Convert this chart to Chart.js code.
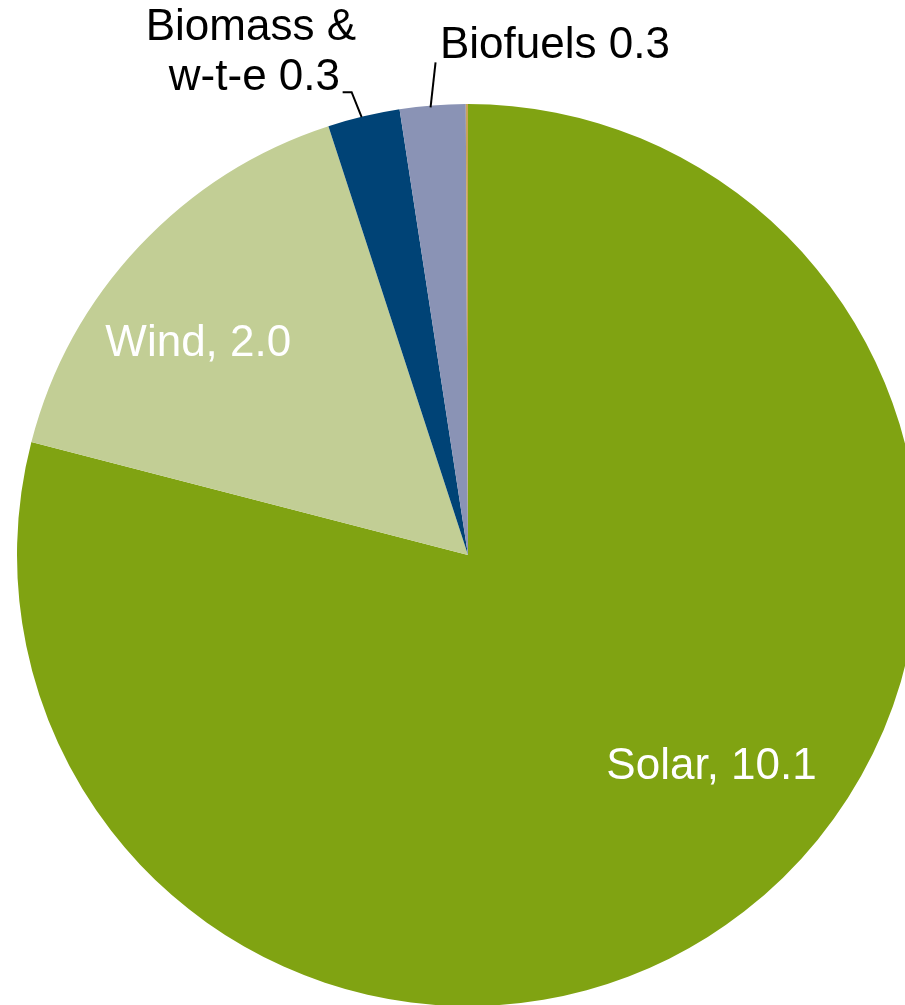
<!DOCTYPE html>
<html>
<head>
<meta charset="utf-8">
<script src="https://cdn.jsdelivr.net/npm/chart.js@4.4.1/dist/chart.umd.min.js"></script>
<style>
  html, body { margin: 0; padding: 0; background: #fff; overflow: hidden; }
  #wrap { position: absolute; left: 0; top: 0; width: 905px; height: 1005px; overflow: hidden; }
  #pie { position: absolute; left: 0; top: 0; }
</style>
</head>
<body>
<div id="wrap"><canvas id="pie" width="936" height="1110"></canvas></div>
<script>
var labels = ['Solar', 'Wind', 'Biomass & w-t-e', 'Biofuels', 'Other'];
var values = [10.1, 2.04, 0.33, 0.3, 0.01];
var colors = ['#80A312', '#C2CE95', '#004376', '#8A93B5', '#C9A35A'];

var labelFont = '44px "Liberation Sans", Arial, sans-serif';

var sliceLabels = {
    id: 'sliceLabels',
    afterDraw: function (chart) {
        var ctx = chart.ctx;
        var arcs = chart.getDatasetMeta(0).data;
        ctx.save();
        ctx.font = labelFont;
        ctx.textBaseline = 'middle';

        // inside labels
        var cx = arcs[0].x, cy = arcs[0].y, r = arcs[0].outerRadius;
        ctx.fillStyle = '#fff';
        ctx.textAlign = 'center';
        ctx.fillText(labels[0] + ', ' + values[0].toFixed(1), cx + r * 0.54, cy + r * 0.47);
        ctx.fillText(labels[1] + ', ' + values[1].toFixed(1), cx - r * 0.598, cy - r * 0.469);

        // outside labels with leader lines
        function edge(a) {
            var mid = (a.startAngle + a.endAngle) / 2;
            return { x: a.x + Math.cos(mid) * a.outerRadius, y: a.y + Math.sin(mid) * a.outerRadius };
        }
        ctx.strokeStyle = '#000';
        ctx.lineWidth = 2;

        var p = edge(arcs[2]);
        ctx.beginPath();
        ctx.moveTo(p.x - 2, p.y + 1);
        ctx.lineTo(p.x - 12, p.y - 24);
        ctx.lineTo(p.x - 21, p.y - 24);
        ctx.stroke();
        ctx.fillStyle = '#000';
        ctx.textAlign = 'right';
        ctx.fillText('Biomass &', 356, 28);
        ctx.fillText('w-t-e ' + values[2].toFixed(1), 340, 78);

        var q = edge(arcs[3]);
        ctx.beginPath();
        ctx.moveTo(q.x - 2, q.y + 2);
        ctx.lineTo(q.x + 3, q.y - 43);
        ctx.stroke();
        ctx.textAlign = 'left';
        ctx.fillText(labels[3] + ' ' + values[3].toFixed(1), 440, 46);
        ctx.restore();
    }
};

var pieChart = new Chart(document.getElementById('pie'), {
    type: 'pie',
    data: {
        labels: labels,
        datasets: [{
            data: values,
            backgroundColor: colors,
            borderWidth: 0
        }]
    },
    options: {
        responsive: false,
        animation: false,
        devicePixelRatio: 1,
        layout: { padding: 17 },
        plugins: {
            legend: { display: false },
            tooltip: { enabled: false }
        }
    },
    plugins: [sliceLabels]
});
</script>
</body>
</html>
